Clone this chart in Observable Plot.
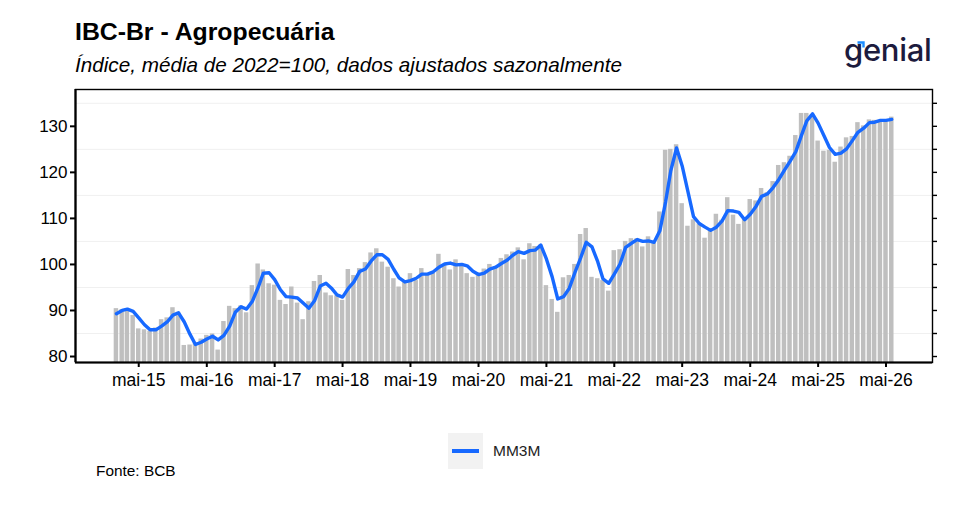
<!DOCTYPE html>
<html><head><meta charset="utf-8">
<script src="https://cdn.jsdelivr.net/npm/d3@7"></script>
<script src="https://cdn.jsdelivr.net/npm/@observablehq/plot@0.6"></script>
<style>
body{margin:0;background:#fff;font-family:"Liberation Sans",Arial,sans-serif;}
#wrap{position:relative;width:956px;height:531px;overflow:hidden;background:#fff;}
.t{position:absolute;white-space:nowrap;color:#000;line-height:1;}
#chart{position:absolute;left:0;top:0;}
</style></head><body>
<div id="wrap">
<div id="chart"></div>
<div class="t" style="left:75px;top:20px;font-size:24.8px;font-weight:bold;">IBC-Br - Agropecuária</div>
<div class="t" style="left:75px;top:55px;font-size:20.7px;font-style:italic;">Índice, média de 2022=100, dados ajustados sazonalmente</div>
<svg style="position:absolute;left:840px;top:30px;" width="100" height="45">
  <text x="4" y="31" font-family="Inter, 'Open Sans', sans-serif" font-weight="500" font-size="31" fill="#1c1b3d" letter-spacing="-0.3">genial</text>
  <path d="M17.5 12.5 H23.5 V17.5" fill="none" stroke="#1a8cff" stroke-width="2.4"/>
</svg>
<div style="position:absolute;left:448px;top:433px;width:35px;height:36px;background:#f2f2f2;"></div>
<div style="position:absolute;left:452px;top:449px;width:27px;height:3.6px;background:#1769ff;"></div>
<div class="t" style="left:493px;top:443px;font-size:15.5px;color:#222;">MM3M</div>
<div class="t" style="left:96px;top:463px;font-size:15.4px;">Fonte: BCB</div>
</div>
<script>
const startMonth = "2015-01";
const indice = [
  90.4, 90.2, 90.3, 88.9, 86.0, 85.8, 85.5, 86.2, 88.0, 88.4, 90.6, 89.6,
  82.4, 82.5, 83.0, 83.8, 84.6, 84.9, 81.4, 87.6, 90.9, 90.4, 91.0, 89.5,
  95.4, 100.1, 98.8, 95.8, 95.5, 92.2, 91.3, 95.1, 91.6, 88.0, 91.9, 96.3,
  97.6, 93.8, 93.2, 93.2, 92.2, 98.9, 97.6, 99.1, 100.4, 102.5, 103.4, 100.5,
  99.4, 96.9, 95.1, 96.5, 98.0, 96.5, 99.1, 98.0, 98.1, 102.2, 100.0, 98.8,
  101.0, 100.2, 98.0, 97.2, 98.1, 99.0, 100.0, 99.2, 101.3, 102.1, 102.7, 103.6,
  101.0, 104.5, 103.9, 104.2, 95.4, 92.4, 89.6, 97.1, 97.6, 100.0, 106.5, 107.8,
  97.2, 96.9, 96.5, 94.2, 103.0, 103.2, 105.0, 105.6, 105.6, 103.8, 106.0, 104.6,
  111.4, 124.8, 125.0, 126.0, 113.2, 108.3, 109.7, 108.8, 105.7, 107.8, 110.9, 109.6,
  114.5, 110.7, 108.7, 109.8, 114.1, 113.8, 116.5, 115.6, 118.0, 121.5, 122.1, 123.5,
  128.0, 132.8, 132.8, 132.5, 126.8, 124.6, 124.8, 122.2, 125.5, 127.5, 127.8, 130.8,
  130.1, 131.4, 131.3, 131.3, 131.2, 132.0
];
const mm3m = [
  89.3, 90.0, 90.3, 89.8, 88.4, 86.9, 85.8, 85.8, 86.6, 87.5, 89.0, 89.5,
  87.5, 84.8, 82.6, 83.1, 83.8, 84.4, 83.6, 84.6, 86.6, 89.6, 90.8, 90.3,
  92.0, 95.0, 98.1, 98.2, 96.7, 94.5, 93.0, 92.9, 92.7, 91.6, 90.5, 92.1,
  95.3, 95.9, 94.9, 93.4, 92.9, 94.8, 96.2, 98.5, 99.0, 100.7, 102.1, 102.1,
  101.1, 98.9, 97.1, 96.2, 96.5, 97.0, 97.9, 97.9, 98.4, 99.4, 100.1, 100.3,
  99.9, 100.0, 99.7, 98.5, 97.8, 98.1, 99.0, 99.4, 100.2, 100.9, 102.0, 102.8,
  102.4, 103.0, 103.1, 104.2, 101.2, 97.3, 92.5, 93.0, 94.8, 98.2, 101.4, 104.8,
  103.8, 100.6, 96.9, 95.9, 97.9, 100.1, 103.7, 104.6, 105.4, 105.0, 105.1, 104.8,
  107.3, 113.6, 120.4, 125.3, 121.4, 115.8, 110.4, 108.9, 108.1, 107.4, 108.1, 109.4,
  111.7, 111.6, 111.3, 109.7, 110.9, 112.6, 114.8, 115.3, 116.7, 118.4, 120.5, 122.4,
  124.5, 128.1, 131.2, 132.7, 130.7, 128.0, 125.4, 123.9, 124.2, 125.1, 126.9, 128.7,
  129.6, 130.8, 130.9, 131.3, 131.3, 131.5
];
const tickMonths = ["2015-05","2016-05","2017-05","2018-05","2019-05","2020-05","2021-05","2022-05","2023-05","2024-05","2025-05","2026-05"];
const tickLabels = ["mai-15","mai-16","mai-17","mai-18","mai-19","mai-20","mai-21","mai-22","mai-23","mai-24","mai-25","mai-26"];
const yTicks = [80, 90, 100, 110, 120, 130];
const yMinorTicks = [80, 85, 90, 95, 100, 105, 110, 115, 120, 125, 130, 135];
const gridValues = [85, 95, 105, 115, 125, 135];

const parse = d3.utcParse("%Y-%m");
const t0 = parse(startMonth);
const data = indice.map((v, i) => ({date: d3.utcMonth.offset(t0, i), value: v, mm: mm3m[i]}));
const tickDates = tickMonths.map(parse);
const labelOf = new Map(tickDates.map((d, i) => [+d, tickLabels[i]]));
const xDomain = [new Date(Date.UTC(2014, 4, 26)), new Date(Date.UTC(2027, 0, 6))];
const yDomain = [78.7, 138];

const chart = Plot.plot({
  width: 956, height: 400,
  marginTop: 89, marginBottom: 38, marginLeft: 75, marginRight: 24,
  style: {fontFamily: "Liberation Sans, Arial, sans-serif", fontSize: "17px", color: "#000", background: "transparent", overflow: "visible"},
  x: {type: "utc", domain: xDomain},
  y: {domain: yDomain},
  marks: [
    Plot.ruleY(gridValues, {stroke: "#f0f0f0", strokeWidth: 1}),
    Plot.rect(data, {
      x1: d => d3.utcDay.offset(d.date, -12),
      x2: d => d3.utcDay.offset(d.date, 12),
      y1: yDomain[0], y2: "value", fill: "#bfbfbf"
    }),
    Plot.line(data, {x: "date", y: "mm", stroke: "#1769ff", strokeWidth: 3.4, strokeLinejoin: "round"}),
    Plot.frame({stroke: "#000", strokeWidth: 1.4}),
    Plot.ruleX([xDomain[0]], {stroke: "#000", strokeWidth: 2.2}),
    Plot.ruleY([yDomain[0]], {stroke: "#000", strokeWidth: 2.2}),
    Plot.axisY({ticks: yTicks, tickSize: 5, tickPadding: 3, strokeWidth: 2, fontSize: 17, label: null}),
    Plot.axisY({anchor: "right", ticks: yMinorTicks, tickSize: 4, tickFormat: () => "", strokeWidth: 1.4, label: null}),
    Plot.axisX({ticks: tickDates, tickFormat: d => labelOf.get(+d), tickSize: 5, tickPadding: 6, strokeWidth: 2, fontSize: 17.5, label: null})
  ]
});
document.getElementById("chart").appendChild(chart);
</script>
</body></html>
